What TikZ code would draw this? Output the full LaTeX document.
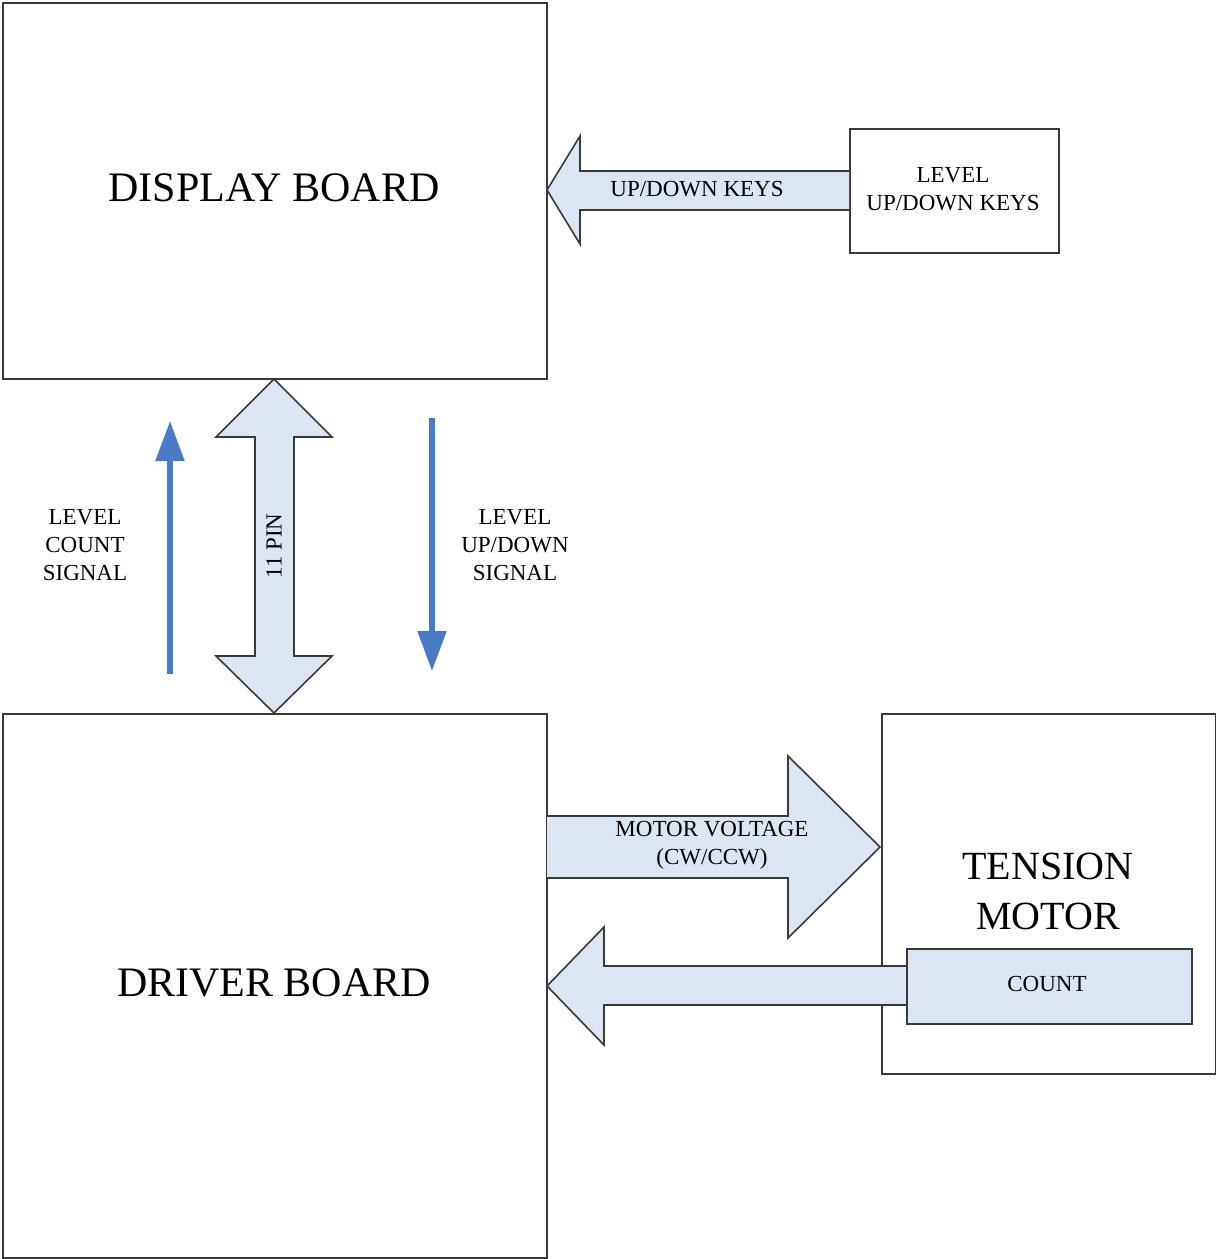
\documentclass[tikz,border=0pt]{standalone}
\usepackage{fontspec}
\setmainfont{Liberation Serif}
\usetikzlibrary{arrows.meta}
\definecolor{boxline}{HTML}{3A3A3A}
\definecolor{arrowfill}{HTML}{DCE6F2}
\definecolor{sigblue}{HTML}{4A7AC6}
\begin{document}
\begin{tikzpicture}[x=1pt,y=-1pt,
  block/.style={draw=boxline,line width=2pt,fill=white,inner sep=0pt,anchor=north west},
  bigtext/.style={font=\fontsize{42}{48}\selectfont},
  smalltext/.style={font=\fontsize{23}{28}\selectfont,align=center},
  fatarrow/.style={draw=boxline,line width=1.6pt,fill=arrowfill,line join=miter},
  sigarrow/.style={draw=sigblue,line width=5.5pt,-{Triangle[length=40pt,width=28pt]}}]
\useasboundingbox (0,0) rectangle (1216,1259);
% blocks
\node[block,minimum width=544pt,minimum height=376pt] (disp) at (2,2) {};
\node[bigtext] (disptxt) at (274,188) {DISPLAY BOARD};
\node[block,minimum width=209pt,minimum height=124pt] (keys) at (849,128) {};
\node[smalltext] (keystxt) at (953,189) {LEVEL\\UP/DOWN KEYS};
\node[block,minimum width=544pt,minimum height=544pt] (drv) at (2,713) {};
\node[bigtext] (drvtxt) at (274,983) {DRIVER BOARD};
\node[block,minimum width=334pt,minimum height=360pt] (mot) at (881,713) {};
\node[bigtext,align=center,font=\fontsize{40}{50}\selectfont] (mottxt) at (1048,891) {TENSION\\MOTOR};
% up/down keys arrow
\draw[fatarrow] (849,171) -- (580,171) -- (580,136) -- (547,190) -- (580,244) -- (580,210) -- (849,210);
\node[smalltext] (udk) at (697,189) {UP/DOWN KEYS};
% 11 pin double arrow
\draw[fatarrow] (274,379) -- (332,437) -- (294,437) -- (294,656) -- (332,656) -- (274,713)
  -- (216,656) -- (255,656) -- (255,437) -- (216,437) -- cycle;
\node[smalltext,rotate=90] (pin) at (274,546) {11 PIN};
% motor voltage arrow
\draw[fatarrow] (547,816) -- (788,816) -- (788,756) -- (880,847) -- (788,938) -- (788,878) -- (547,878);
\node[smalltext] (mv) at (712,845) {MOTOR VOLTAGE\\(CW/CCW)};
% count arrow
\draw[fatarrow] (906,966) -- (604,966) -- (604,927) -- (547,986) -- (604,1045) -- (604,1005) -- (906,1005);
\node[block,fill=arrowfill,minimum width=285pt,minimum height=75pt] (cnt) at (906,948) {};
\node[smalltext] (cnttxt) at (1047,984) {COUNT};
% blue signal arrows
\coordinate (s1a) at (170,674);
\coordinate (s1b) at (170,421);
\coordinate (s2a) at (432,418);
\coordinate (s2b) at (432,671);
\draw[sigarrow] (s1a) -- (s1b);
\draw[sigarrow] (s2a) -- (s2b);
\node[smalltext] (lcs) at (85,545) {LEVEL\\COUNT\\SIGNAL};
\node[smalltext] (lus) at (515,545) {LEVEL\\UP/DOWN\\SIGNAL};
\end{tikzpicture}
\end{document}
